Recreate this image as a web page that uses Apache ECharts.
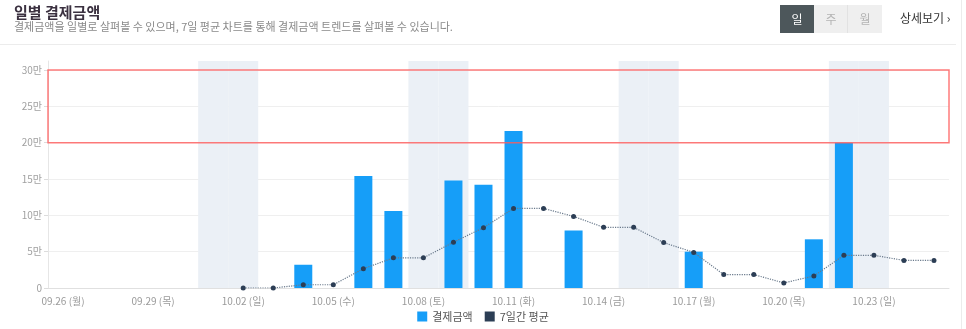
<!DOCTYPE html>
<html><head><meta charset="utf-8">
<script src="https://cdn.jsdelivr.net/npm/echarts@6/dist/echarts.min.js"></script>
<style>html,body{margin:0;padding:0;background:#fff;}#c{width:966px;height:329px;}</style>
</head><body><div id="c"></div>
<script>
var categories = ['09.26 (월)','09.27 (화)','09.28 (수)','09.29 (목)','09.30 (금)','10.01 (토)','10.02 (일)','10.03 (월)','10.04 (화)','10.05 (수)','10.06 (목)','10.07 (금)','10.08 (토)','10.09 (일)','10.10 (월)','10.11 (화)','10.12 (수)','10.13 (목)','10.14 (금)','10.15 (토)','10.16 (일)','10.17 (월)','10.18 (화)','10.19 (수)','10.20 (목)','10.21 (금)','10.22 (토)','10.23 (일)','10.24 (월)','10.25 (화)'];
// 결제금액 (unit: 만)
var payments = [null,null,null,null,null,null,null,null,3.2,null,15.4,10.6,null,14.8,14.2,21.6,null,7.9,null,null,null,5.0,null,null,null,6.7,20.0,null,null,null];
// 7일간 평균 (unit: 만)
var avg7 = [null,null,null,null,null,null,0,0,0.45,0.45,2.65,4.15,4.15,6.3,8.3,10.95,10.95,9.85,8.35,8.35,6.25,4.9,1.85,1.85,0.7,1.65,4.5,4.5,3.8,3.8];
// weekend highlight (1 = weekend band)
var weekend = [null,null,null,null,null,1,1,null,null,null,null,null,1,1,null,null,null,null,null,1,1,null,null,null,null,null,1,1,null,null];
var yTicks = {min:0, max:30, interval:5};
var highlightRange = [20, 30];
var seriesNames = ['결제금액','7일간 평균'];

var chart = echarts.init(document.getElementById('c'), null, {renderer:'canvas'});
var font = '"Noto Sans CJK KR","Noto Sans",sans-serif';
chart.setOption({
  animation:false,
  textStyle:{fontFamily:font},
  title:{text:'일별 결제금액', left:9, top:0,
    textStyle:{fontSize:15, fontWeight:'bold', color:'#3b3140', fontFamily:font},
    subtext:'결제금액을 일별로 살펴볼 수 있으며, 7일 평균 차트를 통해 결제금액 트렌드를 살펴볼 수 있습니다.',
    itemGap:1,
    subtextStyle:{fontSize:11, color:'#8a8a8a', fontFamily:font}},
  graphic:[
    {type:'rect', shape:{x:0,y:44,width:956,height:1}, style:{fill:'#ececec'}, silent:true},
    {type:'rect', shape:{x:961,y:0,width:1,height:329}, style:{fill:'#ececec'}, silent:true},
    {type:'rect', shape:{x:780,y:5,width:34,height:28}, style:{fill:'#4d575b'}},
    {type:'rect', shape:{x:814,y:5,width:68,height:28}, style:{fill:'#efefef'}},
    {type:'rect', shape:{x:847,y:5,width:1,height:28}, style:{fill:'#e2e2e2'}},
    {type:'text', x:797, y:19, style:{text:'일', fill:'#ffffff', font:'12px '+font, align:'center', verticalAlign:'middle'}},
    {type:'text', x:831, y:19, style:{text:'주', fill:'#b4b4b4', font:'12px '+font, align:'center', verticalAlign:'middle'}},
    {type:'text', x:865, y:19, style:{text:'월', fill:'#b4b4b4', font:'12px '+font, align:'center', verticalAlign:'middle'}},
    {type:'text', x:900, y:18, style:{text:'상세보기 ›', fill:'#333333', font:'12px '+font, verticalAlign:'middle'}}
  ],
  legend:{bottom:2, left:'center', itemWidth:10, itemHeight:10, icon:'rect', itemGap:12,
    data:seriesNames, textStyle:{fontSize:11, color:'#555', fontFamily:font}},
  grid:[
    {left:48, right:17, top:70, bottom:41},
    {left:48, right:17, top:61, bottom:41}
  ],
  xAxis:[
    {type:'category', gridIndex:0, data:categories, boundaryGap:true,
      axisLine:{lineStyle:{color:'#e0e0e0'}},
      axisTick:{alignWithLabel:true, interval:0, lineStyle:{color:'#dcdcdc'}},
      axisLabel:{interval:2, color:'#9a9a9a', fontSize:10, margin:8, fontFamily:font}},
    {type:'category', gridIndex:1, data:categories, boundaryGap:true, show:false}
  ],
  yAxis:[
    {type:'value', gridIndex:0, min:yTicks.min, max:yTicks.max, interval:yTicks.interval,
      axisLine:{show:false}, axisTick:{show:true, length:4, lineStyle:{color:'#dcdcdc'}},
      splitLine:{lineStyle:{color:'#efefef'}},
      axisLabel:{color:'#a0a0a0', fontSize:10, margin:6, fontFamily:font,
        formatter:function(v){return v===0?'0':v+'만';}}},
    {type:'value', gridIndex:1, min:0, max:1, axisLabel:{show:false}, axisTick:{show:false},
      splitLine:{show:false}, axisLine:{show:true, lineStyle:{color:'#e6e6e6'}}}
  ],
  series:[
    {name:'weekend', type:'bar', xAxisIndex:1, yAxisIndex:1, data:weekend, barWidth:'100%',
      itemStyle:{color:'#ebf0f6'}, silent:true, z:0},
    {name:seriesNames[0], type:'bar', data:payments, barWidth:18, itemStyle:{color:'#169ef8'}, z:2,
      markArea:{silent:true, z:5, itemStyle:{color:'rgba(0,0,0,0)', borderColor:'rgba(255,90,90,0.8)', borderWidth:1.5},
        data:[[{yAxis:highlightRange[0]},{yAxis:highlightRange[1]}]]}},
    {name:seriesNames[1], type:'line', data:avg7, symbol:'circle', symbolSize:5, z:3,
      itemStyle:{color:'#2c3e55'}, lineStyle:{type:'dotted', width:1.2, color:'#6a7a8c'}}
  ]
});
</script></body></html>
